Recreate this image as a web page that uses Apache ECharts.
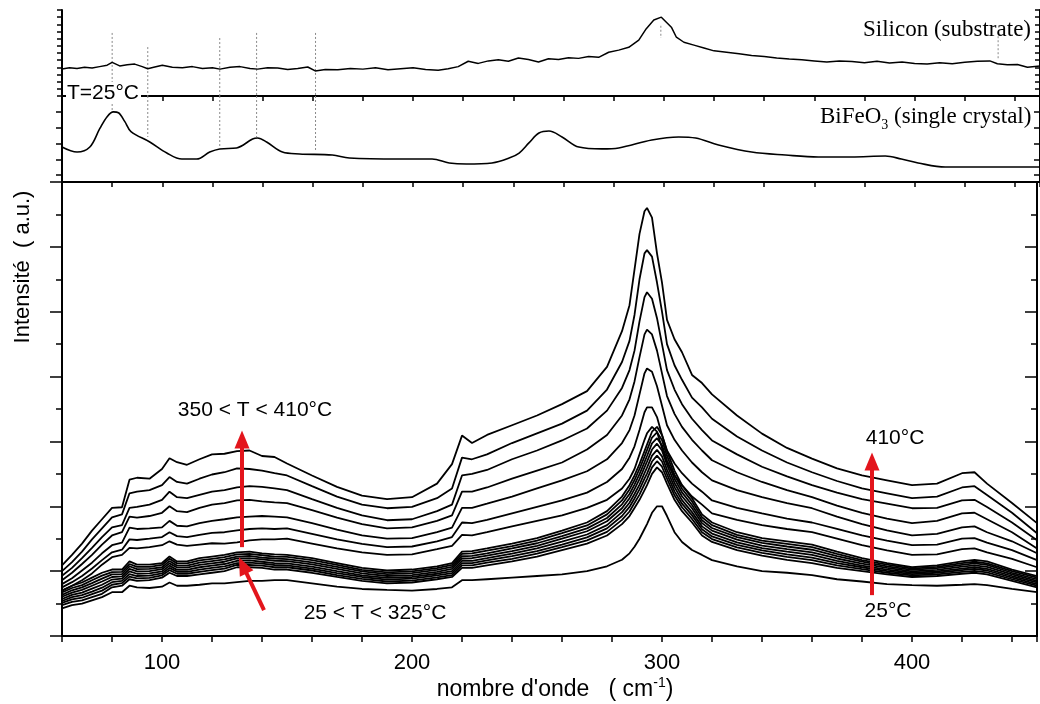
<!DOCTYPE html>
<html><head><meta charset="utf-8">
<script src="https://cdn.jsdelivr.net/npm/echarts@6/dist/echarts.min.js"></script>
<style>html,body{margin:0;padding:0;background:#fff}#c{width:1040px;height:704px}</style>
</head><body><div id="c"></div>
<script>
// ---------- DATA ----------
const wavenumber = [60,64,68,72,76,80,84,87,90,95,100,103,106,110,115,120,125,130,135,140,145,150,160,170,180,190,200,210,216,220,224,230,240,250,260,270,278,284,287,289,291,293,294,296,298,300,302,305,308,312,316,320,330,340,350,360,370,380,390,400,410,420,425,430,440,450];

// high-temperature spectra (350 < T < 410 °C), top to bottom
const hot1 = [2.18,2.5,2.85,3.25,3.6,3.95,3.97,4.82,4.88,4.85,5.15,5.48,5.36,5.28,5.45,5.6,5.62,5.7,5.72,5.55,5.52,5.32,4.95,4.6,4.33,4.22,4.28,4.7,5.3,6.18,5.95,6.2,6.5,6.8,7.15,7.55,8.3,9.4,10.2,11.3,12.4,13.1,13.2,12.9,11.8,10.9,9.75,9.15,8.75,8.05,7.8,7.45,6.8,6.24,5.8,5.47,5.17,4.95,4.8,4.65,4.7,5.02,5.05,4.7,4.1,3.48];
const hot2 = [2.0,2.28,2.6,2.98,3.32,3.66,3.75,4.4,4.45,4.5,4.65,4.9,4.75,4.7,4.85,4.98,5.05,5.17,5.15,5.1,5.02,4.95,4.62,4.3,4.05,3.94,3.98,4.25,4.55,5.5,5.45,5.6,5.95,6.25,6.55,6.95,7.6,8.45,9.1,9.9,11.0,11.8,11.9,11.7,10.9,10.0,9.0,8.35,7.9,7.35,7.05,6.7,6.15,5.72,5.35,5.05,4.78,4.55,4.4,4.25,4.3,4.58,4.62,4.35,3.8,3.17];
const hot3 = [1.86,2.1,2.4,2.72,3.05,3.35,3.42,3.95,3.98,4.05,4.2,4.45,4.28,4.25,4.35,4.45,4.5,4.58,4.62,4.6,4.55,4.5,4.22,3.95,3.72,3.57,3.6,3.85,4.05,4.95,5.0,5.12,5.45,5.72,6.03,6.4,6.95,7.65,8.2,8.8,9.7,10.45,10.6,10.4,9.8,9.0,8.2,7.6,7.15,6.7,6.35,6.03,5.6,5.22,4.92,4.65,4.42,4.22,4.08,3.94,3.95,4.18,4.2,3.98,3.5,2.95];
const hot4 = [1.72,1.95,2.22,2.5,2.82,3.1,3.2,3.68,3.65,3.7,3.8,4.0,3.85,3.82,3.95,4.05,4.1,4.18,4.2,4.15,4.12,4.1,3.88,3.65,3.45,3.32,3.35,3.55,3.72,4.45,4.45,4.58,4.85,5.1,5.35,5.75,6.2,6.8,7.3,7.85,8.6,9.3,9.45,9.3,8.8,8.1,7.4,6.85,6.45,6.05,5.72,5.42,5.05,4.75,4.5,4.28,4.02,3.8,3.62,3.48,3.55,3.78,3.8,3.6,3.2,2.7];
const hot5 = [1.6,1.78,2.02,2.26,2.55,2.8,2.88,3.34,3.3,3.32,3.35,3.55,3.4,3.38,3.48,3.55,3.6,3.66,3.68,3.7,3.68,3.66,3.48,3.28,3.1,3.0,3.02,3.2,3.34,3.95,3.95,4.08,4.3,4.55,4.8,5.08,5.45,5.95,6.35,6.8,7.45,8.1,8.25,8.15,7.7,7.1,6.5,6.05,5.72,5.35,5.05,4.8,4.5,4.28,4.1,3.94,3.68,3.45,3.26,3.1,3.15,3.35,3.38,3.2,2.92,2.55];
const hot6 = [1.5,1.66,1.85,2.08,2.34,2.58,2.66,2.98,2.96,3.0,3.05,3.2,3.08,3.05,3.12,3.18,3.2,3.26,3.3,3.32,3.3,3.32,3.15,2.98,2.84,2.74,2.76,2.92,3.05,3.5,3.48,3.58,3.78,3.98,4.18,4.42,4.75,5.15,5.5,5.85,6.35,6.9,7.05,7.05,6.75,6.2,5.72,5.32,5.02,4.7,4.45,4.18,3.95,3.78,3.62,3.5,3.3,3.1,2.94,2.8,2.82,3.0,3.02,2.88,2.65,2.34];
const hot7 = [1.4,1.55,1.72,1.93,2.2,2.43,2.5,2.72,2.7,2.74,2.8,2.92,2.82,2.78,2.82,2.86,2.85,2.89,2.95,2.98,2.98,3.0,2.85,2.7,2.58,2.5,2.52,2.68,2.78,3.12,3.1,3.2,3.38,3.55,3.72,3.95,4.2,4.55,4.85,5.15,5.6,6.05,6.25,6.45,6.3,5.8,5.35,4.95,4.65,4.3,4.05,3.78,3.58,3.42,3.3,3.2,3.0,2.8,2.64,2.5,2.52,2.68,2.7,2.58,2.38,2.12];

// low-temperature spectra (25 < T < 325 °C), dense bundle, top to bottom
const mid1 = [1.4,1.55,1.65,1.8,1.95,2.05,2.05,2.3,2.2,2.2,2.25,2.45,2.3,2.3,2.4,2.45,2.5,2.58,2.6,2.55,2.52,2.5,2.4,2.25,2.1,2.02,2.05,2.15,2.25,2.6,2.62,2.7,2.85,3.02,3.25,3.5,3.85,4.3,4.65,4.95,5.3,5.7,5.9,6.3,6.45,6.2,5.7,5.1,4.65,4.25,3.75,3.5,3.2,3.02,2.92,2.82,2.6,2.4,2.25,2.12,2.18,2.3,2.35,2.3,2.05,1.85];
const mid2 = [1.34,1.48,1.57,1.72,1.86,1.97,1.98,2.22,2.13,2.13,2.19,2.38,2.24,2.24,2.33,2.38,2.43,2.52,2.53,2.49,2.45,2.44,2.34,2.19,2.04,1.96,1.99,2.09,2.19,2.53,2.55,2.63,2.77,2.94,3.17,3.41,3.75,4.18,4.52,4.81,5.15,5.53,5.73,6.12,6.28,6.04,5.56,4.97,4.54,4.15,3.66,3.42,3.12,2.94,2.84,2.74,2.53,2.34,2.2,2.08,2.13,2.25,2.29,2.24,2.0,1.8];
const mid3 = [1.27,1.41,1.5,1.63,1.77,1.9,1.91,2.15,2.06,2.07,2.12,2.31,2.17,2.17,2.26,2.31,2.36,2.45,2.47,2.42,2.39,2.37,2.27,2.13,1.99,1.91,1.94,2.04,2.13,2.46,2.47,2.55,2.7,2.86,3.08,3.32,3.64,4.06,4.38,4.67,4.99,5.36,5.55,5.94,6.1,5.88,5.42,4.85,4.43,4.04,3.57,3.33,3.05,2.87,2.76,2.66,2.46,2.29,2.15,2.04,2.09,2.19,2.24,2.19,1.95,1.75];
const mid4 = [1.21,1.34,1.42,1.55,1.68,1.82,1.84,2.07,1.99,2.0,2.06,2.24,2.11,2.11,2.19,2.24,2.29,2.39,2.4,2.36,2.32,2.31,2.21,2.07,1.93,1.85,1.88,1.98,2.07,2.39,2.4,2.48,2.62,2.78,3.0,3.23,3.54,3.94,4.25,4.53,4.84,5.2,5.38,5.75,5.93,5.72,5.28,4.72,4.31,3.94,3.48,3.25,2.97,2.79,2.68,2.58,2.39,2.23,2.1,1.99,2.04,2.14,2.18,2.13,1.9,1.7];
const mid5 = [1.14,1.27,1.34,1.46,1.58,1.74,1.77,1.99,1.92,1.93,1.99,2.17,2.04,2.04,2.12,2.17,2.22,2.32,2.33,2.29,2.25,2.24,2.14,2.0,1.87,1.79,1.82,1.92,2.0,2.32,2.32,2.4,2.54,2.7,2.91,3.13,3.42,3.82,4.11,4.38,4.67,5.02,5.19,5.56,5.74,5.54,5.13,4.59,4.19,3.82,3.38,3.16,2.89,2.71,2.6,2.5,2.32,2.17,2.05,1.95,1.99,2.08,2.12,2.07,1.85,1.65];
const mid6 = [1.08,1.2,1.26,1.37,1.49,1.66,1.7,1.91,1.85,1.86,1.93,2.1,1.98,1.98,2.05,2.1,2.15,2.25,2.26,2.23,2.19,2.18,2.08,1.94,1.82,1.74,1.77,1.87,1.94,2.25,2.25,2.33,2.46,2.62,2.82,3.04,3.32,3.7,3.98,4.24,4.52,4.85,5.01,5.38,5.56,5.38,4.99,4.46,4.08,3.72,3.29,3.07,2.81,2.64,2.52,2.42,2.25,2.12,2.0,1.91,1.95,2.03,2.07,2.02,1.8,1.6];
const mid7 = [1.02,1.13,1.18,1.29,1.4,1.58,1.63,1.83,1.78,1.79,1.87,2.03,1.92,1.92,1.98,2.03,2.08,2.19,2.19,2.17,2.12,2.12,2.02,1.88,1.76,1.68,1.71,1.81,1.88,2.18,2.18,2.26,2.38,2.54,2.74,2.95,3.21,3.58,3.84,4.1,4.36,4.68,4.84,5.2,5.39,5.22,4.85,4.34,3.97,3.61,3.2,2.99,2.73,2.56,2.44,2.34,2.18,2.06,1.95,1.87,1.9,1.98,2.01,1.96,1.75,1.55];
const mid8 = [0.95,1.05,1.1,1.2,1.3,1.5,1.55,1.75,1.7,1.72,1.8,1.95,1.85,1.85,1.9,1.95,2.0,2.12,2.12,2.1,2.05,2.05,1.95,1.82,1.7,1.62,1.65,1.75,1.82,2.1,2.1,2.18,2.3,2.45,2.65,2.85,3.1,3.45,3.7,3.95,4.2,4.5,4.65,5.0,5.2,5.05,4.7,4.2,3.85,3.5,3.1,2.9,2.65,2.48,2.35,2.25,2.1,2.0,1.9,1.82,1.85,1.92,1.95,1.9,1.7,1.5];
// lowest spectrum
const base25 = [0.85,0.95,1.0,1.1,1.2,1.35,1.35,1.55,1.5,1.48,1.52,1.65,1.55,1.55,1.58,1.62,1.62,1.66,1.7,1.7,1.72,1.72,1.62,1.52,1.45,1.42,1.4,1.45,1.5,1.72,1.72,1.75,1.8,1.85,1.9,2.0,2.15,2.35,2.55,2.75,3.0,3.3,3.45,3.8,4.0,4.0,3.7,3.2,2.9,2.65,2.5,2.34,2.15,2.0,1.95,1.88,1.75,1.68,1.6,1.57,1.55,1.58,1.6,1.57,1.45,1.35];

// Silicon substrate reference (top panel)
const siliconX = [60,63,66,69,72,75,78,80,83,86,89,92,94.2,97,100,104,108,112,116,120,123,127,131,135,138,142,146,150,154,158,161,165,170,175,180,185,190,195,200,205,210,214,218,222,226,230,234,238,242,246,250,254,258,262,266,270,274,278,282,286,290,293,296,299,301,303,305,308,312,316,320,325,330,335,340,345,350,355,360,365,370,375,380,385,390,395,400,405,410,415,420,425,430,433,437,441,445,450];
const siliconY = [3.77,3.95,3.85,4.0,3.9,4.1,4.3,4.7,4.2,4.35,4.45,4.1,3.8,4.05,4.3,4.0,3.95,4.1,3.85,3.95,3.75,4.0,4.1,3.85,3.75,3.95,3.9,3.7,3.85,4.05,3.5,3.7,3.65,3.85,3.75,3.95,3.65,3.8,3.95,3.7,3.6,3.8,4.1,4.85,4.55,4.9,5.05,4.85,5.3,5.1,4.75,5.2,5.1,5.35,5.25,5.5,5.4,6.1,6.4,6.8,7.8,9.4,10.6,11.0,10.3,9.6,8.2,7.5,7.1,6.7,6.3,6.1,5.9,5.65,5.5,5.3,5.15,5.05,4.9,4.75,4.9,4.8,4.65,4.85,4.6,4.75,4.55,4.45,4.65,4.5,4.7,4.85,4.9,4.5,4.35,4.4,4.0,4.18];

// BiFeO3 single crystal reference (middle panel)
const bfoX = [60,66,71.1,75.1,78,80.5,82.5,85,87.5,95,101.8,107.8,113.7,118.9,122.9,129.6,136,138,141.6,147.9,154.7,167.8,174.6,194.5,207.6,214.4,221.2,231.5,238.3,242.3,246.2,250.2,254.2,259.4,266.1,275.3,282,295.2,305.9,312.7,321.8,335,348.5,361.6,374.8,388.3,394.7,401.4,412.2,428.1,450];
const bfoY = [2.22,1.9,2.22,3.4,4.15,4.45,4.4,3.85,3.2,2.54,1.84,1.46,1.46,1.9,2.1,2.16,2.73,2.79,2.54,1.9,1.78,1.71,1.52,1.46,1.46,1.21,1.14,1.21,1.52,1.84,2.48,3.11,3.24,2.86,2.22,2.1,2.16,2.67,2.86,2.79,2.35,1.9,1.71,1.59,1.59,1.65,1.46,1.21,0.95,0.95,0.95];

// dotted guide lines (mode positions)
const guideX = [80, 94.2, 122.9, 137.6, 161.1];
const guideSiTop = [8.8, 6.83, 8.09, 8.8, 8.8];
const guideBfoBottom = [4.57, 2.86, 2.22, 2.86, 2.03];
const siGuideX = [298.8, 433.3];
const siGuideTop = [9.8, 8.9];
const siGuideBottom = [8.1, 5.0];

// annotation arrows (data coordinates of main panel)
const arrowHot = [[132, 2.74], [132, 6.06]];
const arrowLow = [[140.8, 0.8], [132.3, 2.18]];
const arrowRight = [[384, 1.26], [384, 5.38]];

// ---------- CHART ----------
const SANS = '"Liberation Sans", Arial, sans-serif';
const SERIF = '"Liberation Serif", "Times New Roman", serif';
const chart = echarts.init(document.getElementById('c'), null, {renderer: 'canvas'});
const zip = (xs, ys) => xs.map((x, i) => [x, ys[i]]);
const AX = {color: '#000', width: 2};
const TK = {color: '#000', width: 1.5};

const mainCurves = [hot1, hot2, hot3, hot4, hot5, hot6, hot7, mid1, mid2, mid3, mid4, mid5, mid6, mid7, mid8, base25];
const series = [];
mainCurves.forEach(c => series.push({
  type: 'line', xAxisIndex: 3, yAxisIndex: 4, data: zip(wavenumber, c),
  showSymbol: false, symbol: 'none', silent: true,
  lineStyle: {color: '#000', width: 1.8}
}));
series.push({type: 'line', xAxisIndex: 0, yAxisIndex: 0, data: zip(siliconX, siliconY), showSymbol: false, symbol: 'none', silent: true, lineStyle: {color: '#000', width: 1.5}});
series.push({type: 'line', xAxisIndex: 1, yAxisIndex: 2, data: zip(bfoX, bfoY), smooth: 0.35, showSymbol: false, symbol: 'none', silent: true, lineStyle: {color: '#000', width: 1.6}});
const dotted = {color: '#8a8a8a', width: 1, type: [2, 2]};
guideX.forEach((x, i) => {
  series.push({type: 'line', xAxisIndex: 0, yAxisIndex: 0, data: [[x, guideSiTop[i]], [x, 0]], showSymbol: false, symbol: 'none', silent: true, lineStyle: dotted, z: 1});
  series.push({type: 'line', xAxisIndex: 1, yAxisIndex: 2, data: [[x, 5.46], [x, guideBfoBottom[i]]], showSymbol: false, symbol: 'none', silent: true, lineStyle: dotted, z: 1});
});
siGuideX.forEach((x, i) => {
  series.push({type: 'line', xAxisIndex: 0, yAxisIndex: 0, data: [[x, siGuideTop[i]], [x, siGuideBottom[i]]], showSymbol: false, symbol: 'none', silent: true, lineStyle: dotted, z: 1});
});
const RED = '#e3151c';
series.push({
  type: 'line', xAxisIndex: 3, yAxisIndex: 4, data: [], z: 10, silent: true,
  markLine: {
    silent: true, animation: false, symbol: ['none', 'triangle'], symbolSize: [15, 18],
    label: {show: false}, lineStyle: {color: RED, width: 4, type: 'solid'},
    emphasis: {disabled: true},
    data: [arrowHot, arrowLow, arrowRight].map(a => [{coord: a[0]}, {coord: a[1]}])
  }
});

const xCommon = {type: 'value', min: 60, max: 450, interval: 20, splitLine: {show: false}, axisLine: {show: true, lineStyle: AX}};
const option = {
  animation: false,
  backgroundColor: '#fff',
  grid: [
    {left: 62, width: 980, top: 10, height: 86},
    {left: 62, width: 980, top: 96, height: 86},
    {left: 62, width: 980, top: 182, height: 454}
  ],
  xAxis: [
    Object.assign({}, xCommon, {gridIndex: 0, position: 'top', axisTick: {inside: true, length: 5, lineStyle: TK}, axisLabel: {show: false}}),
    Object.assign({}, xCommon, {gridIndex: 1, position: 'top', axisTick: {inside: true, length: 5, lineStyle: TK}, axisLabel: {show: false}}),
    Object.assign({}, xCommon, {gridIndex: 2, position: 'top', axisTick: {inside: true, length: 5, lineStyle: TK}, axisLabel: {show: false}}),
    Object.assign({}, xCommon, {gridIndex: 2, position: 'bottom', axisTick: {inside: false, length: 6, lineStyle: TK},
      axisLabel: {show: true, margin: 16, fontSize: 22, fontFamily: SANS, color: '#000', formatter: v => (v % 100 === 0 ? String(v) : '')}})
  ],
  yAxis: [
    {type: 'value', gridIndex: 0, position: 'left', min: 0, max: 12, interval: 1, splitLine: {show: false}, axisLine: {show: true, lineStyle: AX}, axisTick: {inside: false, length: 5, lineStyle: TK}, axisLabel: {show: false}},
    {type: 'value', gridIndex: 0, position: 'right', min: 0, max: 12, interval: 1, splitLine: {show: false}, axisLine: {show: true, lineStyle: AX}, axisTick: {inside: true, length: 5, lineStyle: TK}, axisLabel: {show: false}},
    {type: 'value', gridIndex: 1, position: 'left', min: 0, max: 5.46, splitLine: {show: false}, axisLine: {show: true, lineStyle: AX}, axisTick: {inside: false, length: 6, customValues: [0.44, 1.44, 2.44, 3.44, 4.44], lineStyle: TK}, axisLabel: {show: false, customValues: [0.44, 1.44, 2.44, 3.44, 4.44]}},
    {type: 'value', gridIndex: 1, position: 'right', min: 0, max: 5.46, splitLine: {show: false}, axisLine: {show: true, lineStyle: AX}, axisTick: {inside: true, length: 6, customValues: [0.44, 1.44, 2.44, 3.44, 4.44], lineStyle: TK}, axisLabel: {show: false, customValues: [0.44, 1.44, 2.44, 3.44, 4.44]}},
    {type: 'value', gridIndex: 2, position: 'left', min: 0, max: 14, interval: 2, splitLine: {show: false}, axisLine: {show: true, lineStyle: AX}, axisTick: {inside: false, length: 12, lineStyle: TK}, minorTick: {show: true, splitNumber: 2, length: 6, lineStyle: TK}, minorSplitLine: {show: false}, axisLabel: {show: false}},
    {type: 'value', gridIndex: 2, position: 'right', min: 0, max: 14, interval: 2, splitLine: {show: false}, axisLine: {show: true, lineStyle: AX}, axisTick: {inside: true, length: 12, lineStyle: TK}, minorTick: {show: true, splitNumber: 2, length: 6, lineStyle: TK}, minorSplitLine: {show: false}, axisLabel: {show: false}}
  ],
  series: series,
  graphic: [
    {type: 'text', z: 100, x: 23, y: 267, rotation: Math.PI / 2, style: {text: 'Intensité  ( a.u.)', fontSize: 22, fontFamily: SANS, fill: '#000', align: 'center', verticalAlign: 'middle'}},
    {type: 'text', z: 100, x: 555, y: 690, style: {text: "{a|nombre d'onde   ( cm}{s|-1}{a|)}", fill: '#000', align: 'center', verticalAlign: 'middle',
      rich: {a: {fontSize: 23, fontFamily: SANS, fill: '#000', lineHeight: 27}, s: {fontSize: 14, fontFamily: SANS, fill: '#000', verticalAlign: 'top', lineHeight: 27}}}},
    {type: 'text', z: 100, x: 66, y: 93, style: {text: 'T=25°C', fontSize: 21, fontFamily: SANS, fill: '#000', verticalAlign: 'middle', backgroundColor: '#fff', padding: [1, 2, 0, 1]}},
    {type: 'text', z: 100, x: 1031, y: 30, style: {text: 'Silicon (substrate)', fontSize: 23, fontFamily: SERIF, fill: '#000', align: 'right', verticalAlign: 'middle'}},
    {type: 'text', z: 100, x: 820, y: 117, style: {text: '{a|BiFeO}{b|3}{a| (single crystal)}', fill: '#000', align: 'left', verticalAlign: 'middle',
      rich: {a: {fontSize: 23, fontFamily: SERIF, fill: '#000', lineHeight: 30}, b: {fontSize: 14, fontFamily: SERIF, fill: '#000', verticalAlign: 'bottom', lineHeight: 30}}}},
    {type: 'text', z: 100, x: 255, y: 410, style: {text: '350 < T < 410°C', fontSize: 21, fontFamily: SANS, fill: '#000', align: 'center', verticalAlign: 'middle'}},
    {type: 'text', z: 100, x: 375, y: 613, style: {text: '25 < T < 325°C', fontSize: 21, fontFamily: SANS, fill: '#000', align: 'center', verticalAlign: 'middle'}},
    {type: 'text', z: 100, x: 895, y: 438, style: {text: '410°C', fontSize: 21, fontFamily: SANS, fill: '#000', align: 'center', verticalAlign: 'middle'}},
    {type: 'text', z: 100, x: 888, y: 611, style: {text: '25°C', fontSize: 21, fontFamily: SANS, fill: '#000', align: 'center', verticalAlign: 'middle'}}
  ]
};
chart.setOption(option);
</script>
</body></html>
